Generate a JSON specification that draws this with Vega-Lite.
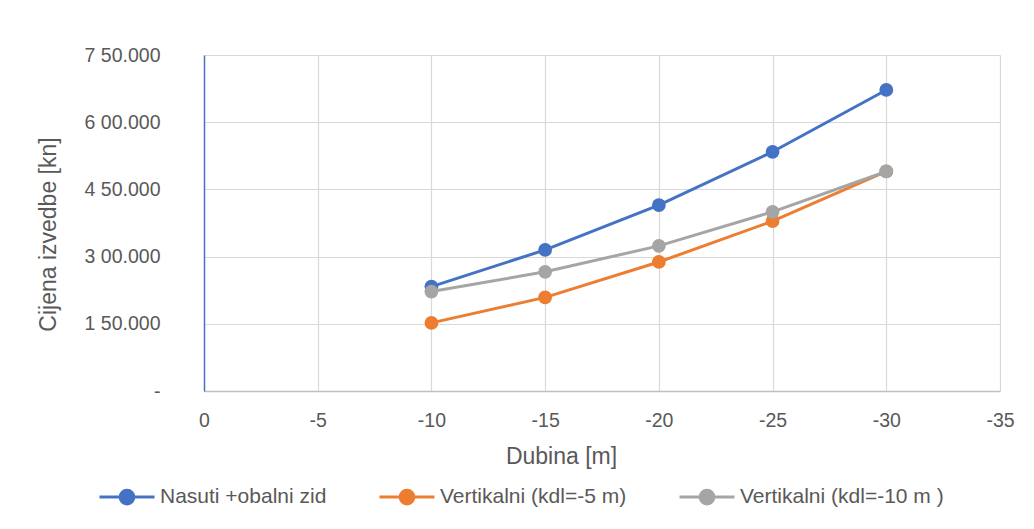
{
  "$schema": "https://vega.github.io/schema/vega-lite/v6.json",
  "width": 796,
  "height": 336,
  "autosize": {"type": "none"},
  "padding": {"left": 204, "top": 55, "right": 34, "bottom": 138},
  "background": "white",
  "config": {"view": {"stroke": null}, "font": "Liberation Sans"},
  "data": {
    "values": [
      {"dubina": -10, "cijena": 233000, "serija": "Nasuti +obalni zid"},
      {"dubina": -15, "cijena": 315000, "serija": "Nasuti +obalni zid"},
      {"dubina": -20, "cijena": 415000, "serija": "Nasuti +obalni zid"},
      {"dubina": -25, "cijena": 534000, "serija": "Nasuti +obalni zid"},
      {"dubina": -30, "cijena": 672000, "serija": "Nasuti +obalni zid"},
      {"dubina": -10, "cijena": 152000, "serija": "Vertikalni (kdl=-5 m)"},
      {"dubina": -15, "cijena": 209000, "serija": "Vertikalni (kdl=-5 m)"},
      {"dubina": -20, "cijena": 288000, "serija": "Vertikalni (kdl=-5 m)"},
      {"dubina": -25, "cijena": 379000, "serija": "Vertikalni (kdl=-5 m)"},
      {"dubina": -30, "cijena": 490000, "serija": "Vertikalni (kdl=-5 m)"},
      {"dubina": -10, "cijena": 222000, "serija": "Vertikalni (kdl=-10 m )"},
      {"dubina": -15, "cijena": 266000, "serija": "Vertikalni (kdl=-10 m )"},
      {"dubina": -20, "cijena": 324000, "serija": "Vertikalni (kdl=-10 m )"},
      {"dubina": -25, "cijena": 400000, "serija": "Vertikalni (kdl=-10 m )"},
      {"dubina": -30, "cijena": 490000, "serija": "Vertikalni (kdl=-10 m )"}
    ]
  },
  "encoding": {
    "x": {
      "field": "dubina",
      "type": "quantitative",
      "scale": {"domain": [0, -35], "nice": false, "zero": false},
      "axis": {
        "title": "Dubina [m]",
        "values": [0, -5, -10, -15, -20, -25, -30, -35],
        "grid": true,
        "gridColor": {"condition": {"test": "datum.value == 0", "value": "transparent"}, "value": "#D9D9D9"},
        "gridWidth": 1.2,
        "domainColor": "#BFBFBF",
        "domainWidth": 1.5,
        "ticks": false,
        "labelExpr": "toString(datum.value)",
        "labelFlush": false,
        "labelOverlap": false,
        "labelFont": "Liberation Sans",
        "labelFontSize": 19.5,
        "labelColor": "#595959",
        "labelPadding": 20,
        "titleFont": "Liberation Sans",
        "titleFontSize": 23,
        "titleFontWeight": "normal",
        "titleColor": "#595959",
        "titleX": 357,
        "titleY": 72,
        "titleAlign": "center",
        "titleBaseline": "alphabetic"
      }
    },
    "y": {
      "field": "cijena",
      "type": "quantitative",
      "scale": {"domain": [0, 750000], "nice": false},
      "axis": {
        "title": "Cijena izvedbe [kn]",
        "values": [0, 150000, 300000, 450000, 600000, 750000],
        "grid": true,
        "gridColor": "#D9D9D9",
        "gridWidth": 1.2,
        "domainColor": "#4472C4",
        "domainWidth": 1.5,
        "ticks": false,
        "labelExpr": "datum.value == 0 ? '-\u00a0\u00a0' : substring(toString(datum.value), 0, 1) + ' ' + substring(toString(datum.value), 1, 3) + '.' + substring(toString(datum.value), 3)",
        "labelFlush": false,
        "labelOverlap": false,
        "labelFont": "Liberation Sans",
        "labelFontSize": 19.5,
        "labelColor": "#595959",
        "labelPadding": 44,
        "titleFont": "Liberation Sans",
        "titleFontSize": 23,
        "titleFontWeight": "normal",
        "titleColor": "#595959",
        "titleAngle": -90,
        "titleX": -149,
        "titleY": 179,
        "titleAlign": "center",
        "titleBaseline": "alphabetic"
      }
    },
    "color": {
      "field": "serija",
      "type": "nominal",
      "scale": {
        "domain": ["Nasuti +obalni zid", "Vertikalni (kdl=-5 m)", "Vertikalni (kdl=-10 m )"],
        "range": ["#4472C4", "#ED7D31", "#A5A5A5"]
      },
      "legend": {
        "title": null,
        "orient": "none",
        "direction": "horizontal",
        "columns": 3,
        "legendX": -106,
        "legendY": 413,
        "padding": 0,
        "columnPadding": 46,
        "symbolType": "M-1,0L1,0M0.25,0A0.25,0.25,0,1,1,-0.25,0A0.25,0.25,0,1,1,0.25,0Z",
        "symbolSize": 3025,
        "symbolStrokeWidth": 3,
        "labelFont": "Liberation Sans",
        "labelFontSize": 21,
        "labelColor": "#595959",
        "labelOffset": 4,
        "labelLimit": 400,
        "encode": {
          "symbols": {
            "update": {
              "fill": {"scale": "color", "field": "value"},
              "stroke": {"scale": "color", "field": "value"},
              "opacity": {"value": 1}
            }
          }
        }
      }
    }
  },
  "layer": [
    {"mark": {"type": "line", "strokeWidth": 3}},
    {"mark": {"type": "point", "filled": true, "size": 190, "opacity": 1}}
  ]
}
